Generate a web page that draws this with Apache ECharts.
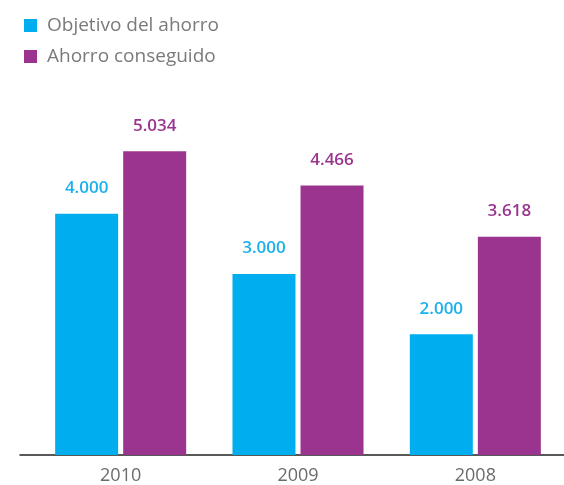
<!DOCTYPE html>
<html lang="es">
<head>
    <meta charset="UTF-8">
    <title>Ahorro</title>
    <script src="https://cdn.jsdelivr.net/npm/echarts@6/dist/echarts.min.js"></script>
    <style>
        html, body { margin: 0; padding: 0; background: #fff; }
        #main { width: 564px; height: 485px; }
    </style>
</head>
<body>
<div id="main"></div>
<script type="text/javascript">
    // datos del gráfico
    var years = ['2010', '2009', '2008'];
    var objetivo = [4000, 3000, 2000];
    var conseguido = [5034, 4466, 3618];
    var seriesNames = ['Objetivo del ahorro', 'Ahorro conseguido'];

    var BLUE = '#00AEEF';
    var PURPLE = '#9B348F';

    // 4000 -> "4.000"
    function miles(v) {
        return String(v).replace(/\B(?=(\d{3})+(?!\d))/g, '.');
    }

    var chart = echarts.init(document.getElementById('main'));

    chart.setOption({
        animation: false,
        textStyle: { fontFamily: '"Open Sans", Lato, sans-serif' },
        legend: {
            orient: 'vertical',
            left: 19,
            top: 11,
            itemWidth: 13,
            itemHeight: 13,
            itemGap: 12,
            icon: 'rect',
            data: seriesNames,
            textStyle: { color: '#7a7a7a', fontSize: 19, padding: [0, 0, 0, 5] }
        },
        grid: [
            { left: 32, right: 0, top: 93, bottom: 30 },
            { left: 20, right: 0, top: 93, bottom: 30 }
        ],
        xAxis: [
            {
                type: 'category',
                data: years,
                gridIndex: 0,
                axisLine: { show: false },
                axisTick: { show: false },
                axisLabel: { color: '#6b6b6b', fontSize: 18, margin: 12 }
            },
            {
                type: 'category',
                data: years,
                gridIndex: 1,
                axisLine: { show: true, lineStyle: { color: '#222', width: 1.5 } },
                axisTick: { show: false },
                axisLabel: { show: false }
            }
        ],
        yAxis: [
            { type: 'value', min: 0, max: 6000, gridIndex: 0, show: false },
            { type: 'value', min: 0, max: 6000, gridIndex: 1, show: false }
        ],
        series: [
            {
                name: seriesNames[0],
                type: 'bar',
                data: objetivo,
                barWidth: 63,
                barGap: '8%',
                itemStyle: { color: BLUE },
                label: {
                    show: true,
                    position: 'top',
                    distance: 17,
                    color: '#1BB1EC',
                    fontSize: 17,
                    fontWeight: 600,
                    formatter: function (p) { return miles(p.value); }
                }
            },
            {
                name: seriesNames[1],
                type: 'bar',
                data: conseguido,
                barWidth: 63,
                barGap: '8%',
                itemStyle: { color: PURPLE },
                label: {
                    show: true,
                    position: 'top',
                    distance: 17,
                    color: PURPLE,
                    fontSize: 17,
                    fontWeight: 600,
                    formatter: function (p) { return miles(p.value); }
                }
            }
        ]
    });
</script>
</body>
</html>
